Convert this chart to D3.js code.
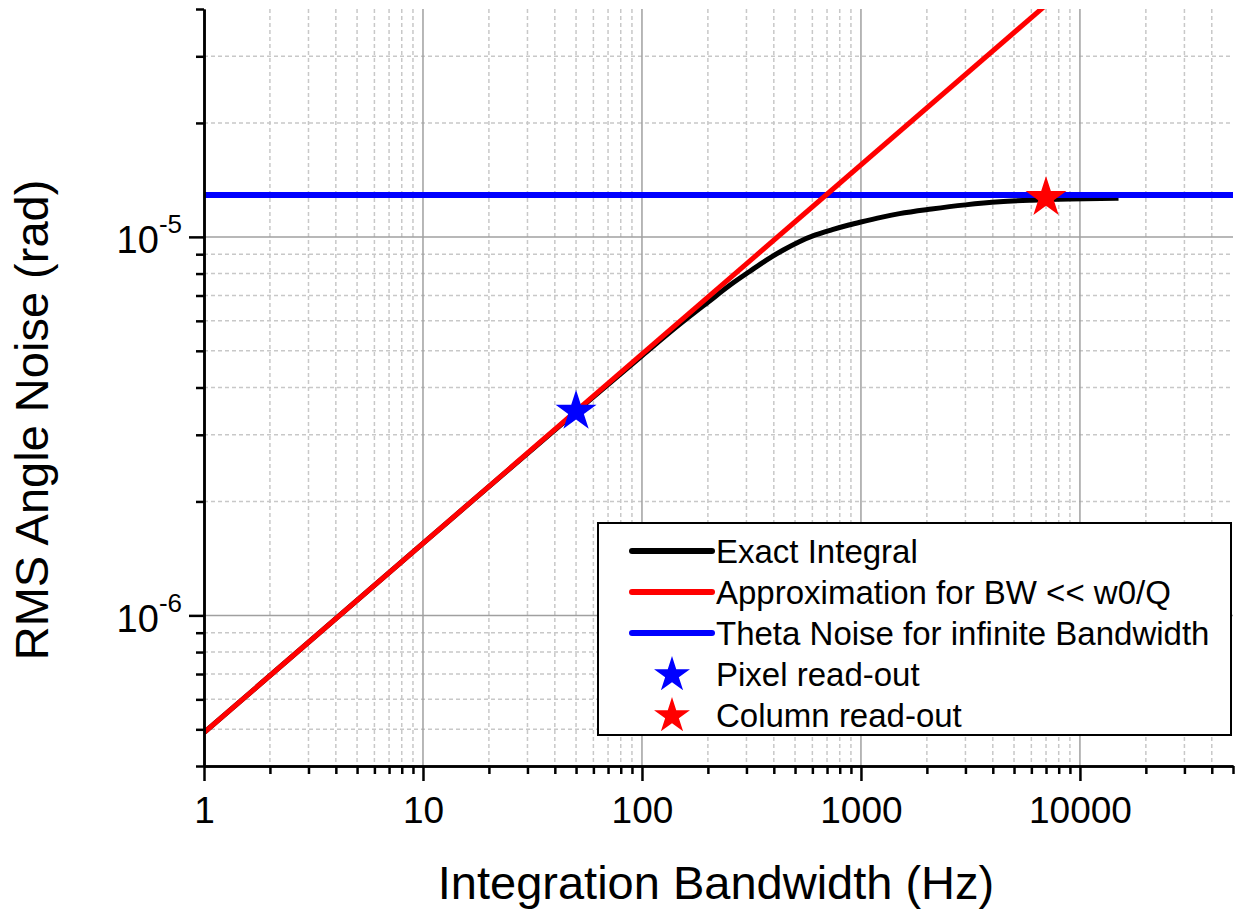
<!DOCTYPE html>
<html>
<head>
  <meta charset="utf-8">
  <title>RMS Angle Noise</title>
  <style>
    body { margin: 0; background: #fff; }
    svg { font-family: "Liberation Sans", Arial, sans-serif; }
    .grid-minor line { stroke: #c8c8c8; stroke-width: 1.5; stroke-dasharray: 4,3; }
    .grid-major line { stroke: #a0a0a0; stroke-width: 1.5; }
    .axis path, .axis line { stroke: #000; stroke-width: 2.5; }
    .axis text { font-size: 37px; fill: #000; }
  </style>
  <script src="https://d3js.org/d3.v7.min.js"></script>
</head>
<body>
  <script>
    // values
    var bwExact = [1, 10, 50, 100, 150, 200, 260, 310, 370, 440, 520, 620, 740, 880, 1000,
                   1250, 1500, 2100, 3000, 4300, 6000, 9000, 15000];
    var noiseExact = [4.9e-7, 1.55e-6, 3.45e-6, 4.85e-6, 5.9e-6, 6.72e-6, 7.55e-6, 8.1e-6,
                      8.68e-6, 9.22e-6, 9.7e-6, 1.012e-5, 1.045e-5, 1.075e-5, 1.095e-5,
                      1.128e-5, 1.152e-5, 1.185e-5, 1.215e-5, 1.238e-5, 1.25e-5, 1.259e-5, 1.265e-5];

    var bwApprox = [1, 10000];
    var noiseApprox = [4.9e-7, 4.9e-5];

    var bwInfinite = [1, 50000];
    var noiseInfinite = [1.29e-5, 1.29e-5];

    var readoutNames = ["Pixel read-out", "Column read-out"];
    var readoutBW = [50, 7000];
    var readoutNoise = [3.46e-6, 1.27e-5];

    var xTickValues = [1, 10, 100, 1000, 10000];
    var xTickLabels = ["1", "10", "100", "1000", "10000"];
    var yTickValues = [1e-6, 1e-5];
    var yTickExponents = ["-6", "-5"];

    var legendLabels = ["Exact Integral", "Approximation for BW << w0/Q",
                        "Theta Noise for infinite Bandwidth", "Pixel read-out", "Column read-out"];

    var width = 1238, height = 909;
    var plotLeft = 204, plotRight = 1233, plotTop = 9, plotBottom = 766;

    var svg = d3.select('body').append('svg')
      .attr('width', width)
      .attr('height', height);

    var x = d3.scaleLog().domain([1, 50000]).range([plotLeft, plotRight]);
    var y = d3.scaleLog().domain([4e-7, 4e-5]).range([plotBottom, plotTop]);

    // minor positions: 2..9 of each decade inside the domain
    var xMinor = [];
    [1, 10, 100, 1000, 10000].forEach(function(d) {
      for (var k = 2; k <= 9; k++) if (d * k <= 50000) xMinor.push(d * k);
    });
    var yMinor = [4e-7];
    [1e-7, 1e-6, 1e-5].forEach(function(d) {
      for (var k = 2; k <= 9; k++) {
        var v = +(d * k).toPrecision(3);
        if (v > 4e-7 && v <= 4e-5) yMinor.push(v);
      }
    });

    // grid
    var gMinor = svg.append('g').attr('class', 'grid-minor');
    gMinor.selectAll('.vx').data(xMinor.filter(function(d) { return d < 50000; })).enter().append('line')
      .attr('x1', x).attr('x2', x).attr('y1', plotTop).attr('y2', plotBottom);
    gMinor.selectAll('.hy').data(yMinor.filter(function(d) { return d > 4e-7 && d < 4e-5; })).enter().append('line')
      .attr('x1', plotLeft).attr('x2', plotRight).attr('y1', y).attr('y2', y);

    var gMajor = svg.append('g').attr('class', 'grid-major');
    gMajor.selectAll('.vx').data(xTickValues.slice(1)).enter().append('line')
      .attr('x1', x).attr('x2', x).attr('y1', plotTop).attr('y2', plotBottom);
    gMajor.selectAll('.hy').data(yTickValues).enter().append('line')
      .attr('x1', plotLeft).attr('x2', plotRight).attr('y1', y).attr('y2', y);

    // curves
    svg.append('clipPath').attr('id', 'plot-clip')
      .append('rect').attr('x', plotLeft).attr('y', plotTop)
      .attr('width', plotRight - plotLeft).attr('height', plotBottom - plotTop);

    var line = d3.line().x(function(d) { return x(d[0]); }).y(function(d) { return y(d[1]); });
    var curves = svg.append('g').attr('clip-path', 'url(#plot-clip)');

    function pairs(a, b) { return a.map(function(v, i) { return [v, b[i]]; }); }

    curves.append('path').datum(pairs(bwExact, noiseExact))
      .attr('d', line.curve(d3.curveMonotoneX)).attr('fill', 'none')
      .attr('stroke', '#000').attr('stroke-width', 5);
    line.curve(d3.curveLinear);
    curves.append('path').datum(pairs(bwInfinite, noiseInfinite))
      .attr('d', line).attr('fill', 'none')
      .attr('stroke', '#0000ff').attr('stroke-width', 6);
    curves.append('path').datum(pairs(bwApprox, noiseApprox))
      .attr('d', line).attr('fill', 'none')
      .attr('stroke', '#ff0000').attr('stroke-width', 5);

    var starColor = ['#0000ff', '#ff0000'];
    var bigStar = d3.symbol().type(d3.symbolStar).size(520);
    svg.append('g').selectAll('path')
      .data(pairs(readoutBW, readoutNoise))
      .enter().append('path')
      .attr('d', bigStar)
      .attr('transform', function(d) { return 'translate(' + x(d[0]) + ',' + y(d[1]) + ')'; })
      .attr('fill', function(d, i) { return starColor[i]; });

    // axes
    svg.append('g').attr('class', 'axis')
      .attr('transform', 'translate(0,' + plotBottom + ')')
      .call(d3.axisBottom(x).tickValues(xMinor).tickSize(8).tickFormat('').tickSizeOuter(0));
    svg.append('g').attr('class', 'axis')
      .attr('transform', 'translate(0,' + plotBottom + ')')
      .call(d3.axisBottom(x).tickValues(xTickValues).tickSize(15).tickPadding(16)
        .tickFormat(function(d, i) { return xTickLabels[i]; }).tickSizeOuter(0));

    svg.append('g').attr('class', 'axis')
      .attr('transform', 'translate(' + plotLeft + ',0)')
      .call(d3.axisLeft(y).tickValues(yMinor).tickSize(8).tickFormat('').tickSizeOuter(0));
    svg.append('g').attr('class', 'axis')
      .attr('transform', 'translate(' + plotLeft + ',0)')
      .call(d3.axisLeft(y).tickValues(yTickValues).tickSize(15).tickFormat('').tickSizeOuter(0));

    var yLab = svg.append('g').selectAll('text')
      .data(yTickValues).enter().append('text')
      .attr('x', 182)
      .attr('y', function(d) { return y(d) + 16.5; })
      .attr('text-anchor', 'end')
      .style('font-size', '38px');
    yLab.append('tspan').text('10');
    yLab.append('tspan').attr('dy', -20).style('font-size', '26px')
      .text(function(d, i) { return yTickExponents[i]; });

    // axis titles
    svg.append('text')
      .attr('x', 716).attr('y', 899)
      .attr('text-anchor', 'middle')
      .style('font-size', '47px')
      .text('Integration Bandwidth (Hz)');
    svg.append('text')
      .attr('transform', 'translate(48,420) rotate(-90)')
      .attr('text-anchor', 'middle')
      .style('font-size', '47px')
      .text('RMS Angle Noise (rad)');

    // legend
    var legend = svg.append('g').attr('transform', 'translate(598,523)');
    legend.append('rect')
      .attr('width', 633).attr('height', 212)
      .attr('fill', '#fff').attr('stroke', '#000').attr('stroke-width', 2);
    var legendColor = ['#000', '#ff0000', '#0000ff', '#0000ff', '#ff0000'];
    var smallStar = d3.symbol().type(d3.symbolStar).size(400);
    legendLabels.forEach(function(label, i) {
      var cy = 28 + i * 41;
      if (i < 3) {
        legend.append('line')
          .attr('x1', 34).attr('x2', 114).attr('y1', cy).attr('y2', cy)
          .attr('stroke', legendColor[i]).attr('stroke-width', 6)
          .attr('stroke-linecap', 'round');
      } else {
        legend.append('path').attr('d', smallStar)
          .attr('transform', 'translate(74,' + (cy + 1) + ')')
          .attr('fill', legendColor[i]);
      }
      legend.append('text')
        .attr('x', 118).attr('y', cy + 12)
        .style('font-size', '33px')
        .text(label);
    });
  </script>
</body>
</html>
